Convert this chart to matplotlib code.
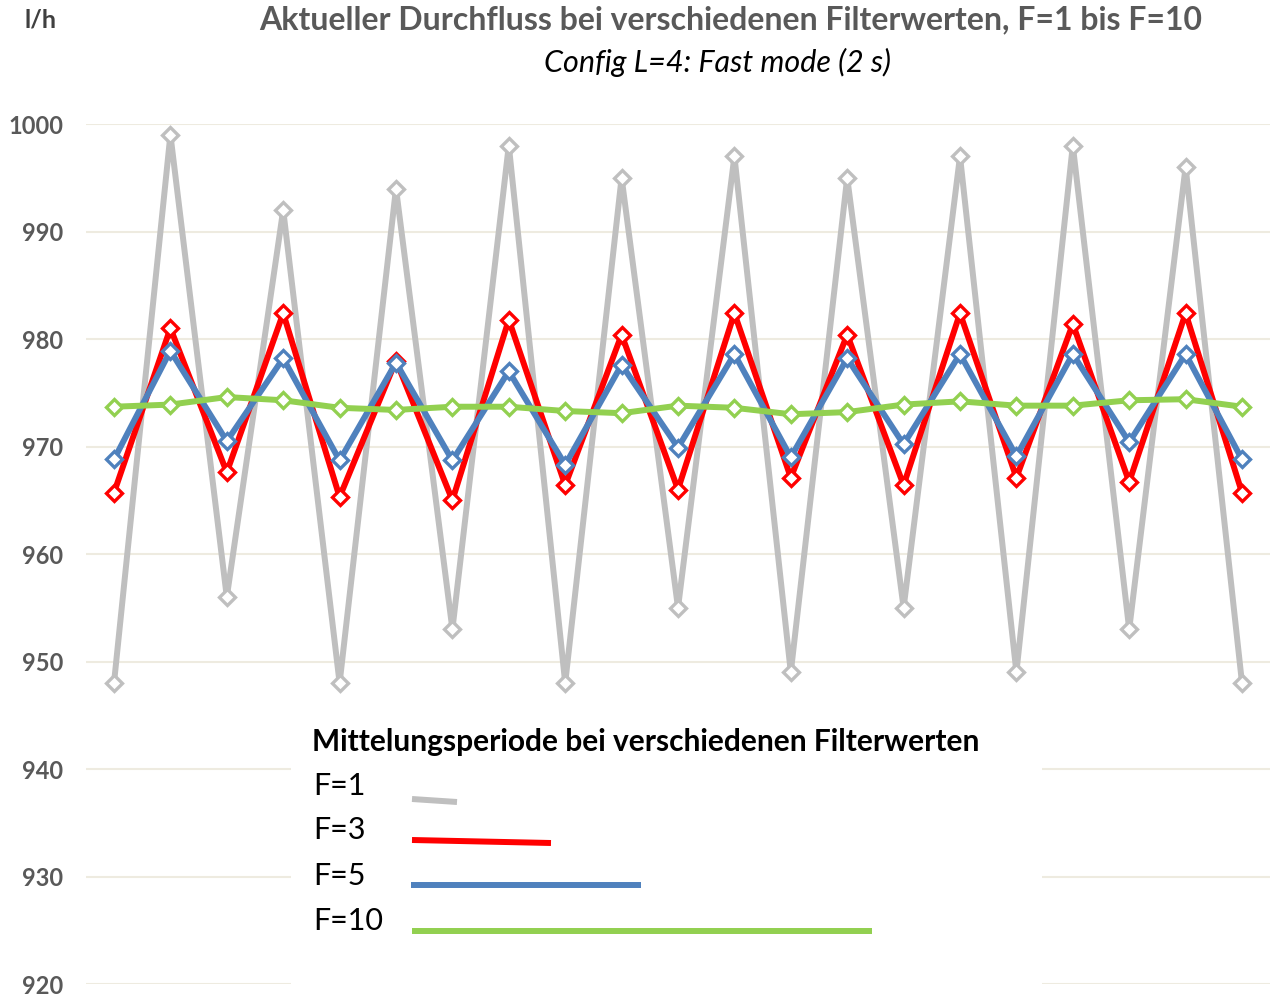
import matplotlib
matplotlib.use("Agg")
import matplotlib.pyplot as plt
from matplotlib.patches import Rectangle
from matplotlib.lines import Line2D

W, H = 1270, 997
FONT = "Lato"

x_idx = list(range(21))
f1 = [948, 999, 956, 992, 948, 994, 953, 998, 948, 995, 955, 997, 949, 995, 955, 997, 949, 998, 953, 996, 948]
f3 = [965.7, 981.0, 967.6, 982.4, 965.3, 978.0, 965.0, 981.8, 966.4, 980.4, 966.0, 982.4, 967.1, 980.4, 966.4,
      982.4, 967.1, 981.4, 966.7, 982.4, 965.7]
f5 = [968.8, 978.9, 970.5, 978.2, 968.7, 977.8, 968.7, 977.0, 968.3, 977.6, 969.9, 978.6, 969.0, 978.2, 970.2,
      978.6, 969.1, 978.6, 970.4, 978.6, 968.8]
f10 = [973.7, 973.9, 974.6, 974.3, 973.6, 973.4, 973.7, 973.7, 973.3, 973.1, 973.8, 973.6, 973.0, 973.2, 973.9,
       974.2, 973.8, 973.8, 974.3, 974.4, 973.7]
series_labels = ["F=1", "F=3", "F=5", "F=10"]
series_colors = ["#BFBFBF", "#FF0000", "#4F81BD", "#92D050"]
y_ticks = [920, 930, 940, 950, 960, 970, 980, 990, 1000]

title = "Aktueller Durchfluss bei verschiedenen Filterwerten, F=1 bis F=10"
subtitle = "Config L=4: Fast mode (2 s)"
unit = "l/h"
legend_title = "Mittelungsperiode bei verschiedenen Filterwerten"

fig = plt.figure(figsize=(W / 100, H / 100), dpi=100)

def fx(px):
    return px / W

def fy(py):
    return 1 - py / H

ax_left, ax_right = 85.8, 1270.2
ax_top, ax_bottom = 124, 984
ax = fig.add_axes([fx(ax_left), fy(ax_bottom), fx(ax_right - ax_left), (ax_bottom - ax_top) / H])
ax.set_xlim(-0.5, 20.5)
ax.set_ylim(920, 1000)

for v in y_ticks:
    ax.axhline(v, color="#EEEBE0", lw=1.5, zorder=0)

for vals, col in zip([f1, f3, f5, f10], series_colors):
    ax.plot(x_idx, vals, color=col, lw=4.3, marker="D", markersize=8, markerfacecolor="white",
            markeredgecolor=col, markeredgewidth=2.4, clip_on=False, zorder=3)

ax.set_yticks(y_ticks)
ax.set_yticklabels([str(v) for v in y_ticks], fontfamily=FONT, fontweight="bold", fontsize=17, color="#595959")
ax.tick_params(axis="y", length=0, pad=16)
ax.set_xticks([])
for s in ax.spines.values():
    s.set_visible(False)

# legend box
fig.patches.append(Rectangle((fx(291), 0), fx(1042 - 291), fy(716), transform=fig.transFigure,
                             facecolor="white", edgecolor="none", zorder=5))
fig.text(fx(312), fy(742), legend_title, fontfamily=FONT, fontweight="bold", fontsize=21.5,
         color="black", va="center", ha="left", zorder=6)
leg_y_text = [786, 830, 876, 921]
leg_lines = [((412, 799), (457, 802)), ((412, 840), (551, 843)), ((411, 885), (641, 885)), ((412, 931), (872, 931))]
for lab, col, ty, ((x0, y0), (x1, y1)) in zip(series_labels, series_colors, leg_y_text, leg_lines):
    fig.text(fx(313), fy(ty), lab, fontfamily=FONT, fontsize=22, color="black", va="center", ha="left", zorder=6)
    fig.add_artist(Line2D([fx(x0), fx(x1)], [fy(y0), fy(y1)], color=col, lw=4.3,
                          solid_capstyle="butt", transform=fig.transFigure, zorder=6))

fig.text(fx(731), fy(20), title, fontfamily=FONT, fontweight="bold", fontsize=23, color="#595959",
         ha="center", va="center")
fig.text(fx(718), fy(62), subtitle, fontfamily=FONT, style="italic", fontsize=22, color="black",
         ha="center", va="center")
fig.text(fx(40), fy(20), unit, fontfamily=FONT, fontweight="bold", fontsize=18, color="#404040",
         ha="center", va="center")

fig.savefig("out.png", dpi=100)
